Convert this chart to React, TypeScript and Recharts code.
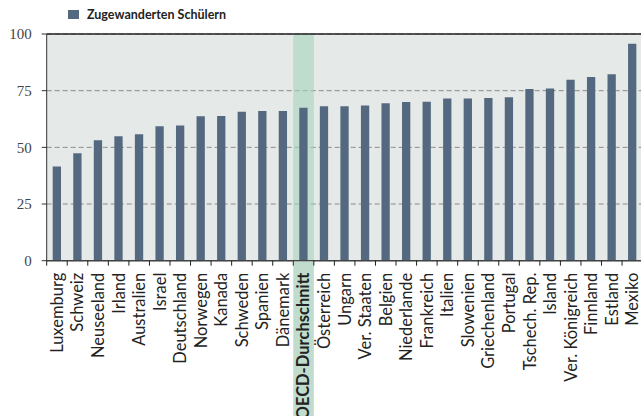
import React from 'react';
import { BarChart, Bar, XAxis, YAxis, CartesianGrid, ReferenceArea, ReferenceLine } from 'recharts';

const categories = [
  'Luxemburg', 'Schweiz', 'Neuseeland', 'Irland', 'Australien', 'Israel', 'Deutschland',
  'Norwegen', 'Kanada', 'Schweden', 'Spanien', 'Dänemark', 'OECD-Durchschnitt', 'Österreich',
  'Ungarn', 'Ver. Staaten', 'Belgien', 'Niederlande', 'Frankreich', 'Italien', 'Slowenien',
  'Griechenland', 'Portugal', 'Tschech. Rep.', 'Island', 'Ver. Königreich', 'Finnland',
  'Estland', 'Mexiko',
];
const values = [
  41.5, 47.4, 53.1, 54.9, 55.8, 59.3, 59.6, 63.7, 63.8, 65.7, 66.0, 66.0, 67.5, 68.1,
  68.1, 68.5, 69.4, 70.0, 70.1, 71.6, 71.6, 71.8, 72.1, 75.7, 76.0, 79.8, 81.0, 82.2, 95.7,
];
const seriesName = 'Zugewanderten Schülern';
const highlight = 'OECD-Durchschnitt';
const yTicks = [0, 25, 50, 75, 100];

const data = categories.map((name, i) => ({ name, value: values[i] }));

const CHART_W = 660;
const CHART_H = 416;
const MARGIN = { top: 34, right: 17.4, left: 0, bottom: 0 };
const Y_W = 46.7;
const X_H = 155.3;
const BAND = (CHART_W - MARGIN.right - Y_W) / categories.length;

const BAR_COLOR = '#54697f';
const GREEN = '#bfdccd';

const XTick = (props: any) => {
  const { x, y, payload } = props;
  const isHi = payload.value === highlight;
  const ty = y + 12;
  return (
    <g>
      {isHi && <rect x={x - BAND / 2} y={y + 1} width={BAND} height={200} fill={GREEN} />}
      <line x1={x - BAND / 2} x2={x - BAND / 2} y1={y} y2={y + 5} stroke="#222" strokeWidth={1} />
      <text
        x={x}
        y={ty}
        transform={`rotate(-90, ${x}, ${ty})`}
        textAnchor="end"
        dy="0.36em"
        fontFamily="Lato"
        fontSize={16.5}
        fontWeight={isHi ? 700 : 400}
        fill="#222"
      >
        {payload.value}
      </text>
    </g>
  );
};

export default function App() {
  return (
    <div
      style={{
        position: 'fixed',
        left: 0,
        top: 0,
        width: 641,
        height: 416,
        overflow: 'hidden',
        background: '#fff',
      }}
    >
      <div
        style={{
          position: 'absolute',
          left: 68,
          top: 7,
          display: 'flex',
          alignItems: 'center',
          fontFamily: 'Lato',
          fontWeight: 700,
          fontSize: 12.5,
          color: '#222',
          zIndex: 2,
        }}
      >
        <span style={{ display: 'inline-block', width: 11, height: 9, background: BAR_COLOR, marginRight: 8 }} />
        <span>{seriesName}</span>
      </div>
      <BarChart width={CHART_W} height={CHART_H} data={data} margin={MARGIN} barCategoryGap={0}>
        <CartesianGrid fill="#e5e9e8" vertical={false} stroke="#8c8c8c" strokeDasharray="5 3" />
        <ReferenceArea x1={highlight} x2={highlight} fill="#a6d3bb" fillOpacity={0.6} stroke="none" />
        <XAxis
          dataKey="name"
          interval={0}
          height={X_H}
          tickSize={0}
          tickMargin={0}
          tickLine={false}
          axisLine={{ stroke: '#444', strokeWidth: 1.5 }}
          tick={<XTick />}
        />
        <YAxis
          width={Y_W}
          domain={[0, 100]}
          ticks={yTicks}
          interval={0}
          tickSize={5}
          tickMargin={10}
          axisLine={{ stroke: '#333', strokeWidth: 1 }}
          tickLine={{ stroke: '#333' }}
          tick={{ fontFamily: 'Liberation Serif', fontSize: 15, fill: '#444' }}
        />
        <ReferenceLine y={100} stroke="#222" strokeWidth={1.5} />
        <Bar dataKey="value" name={seriesName} fill={BAR_COLOR} barSize={8.3} isAnimationActive={false} />
      </BarChart>
    </div>
  );
}
